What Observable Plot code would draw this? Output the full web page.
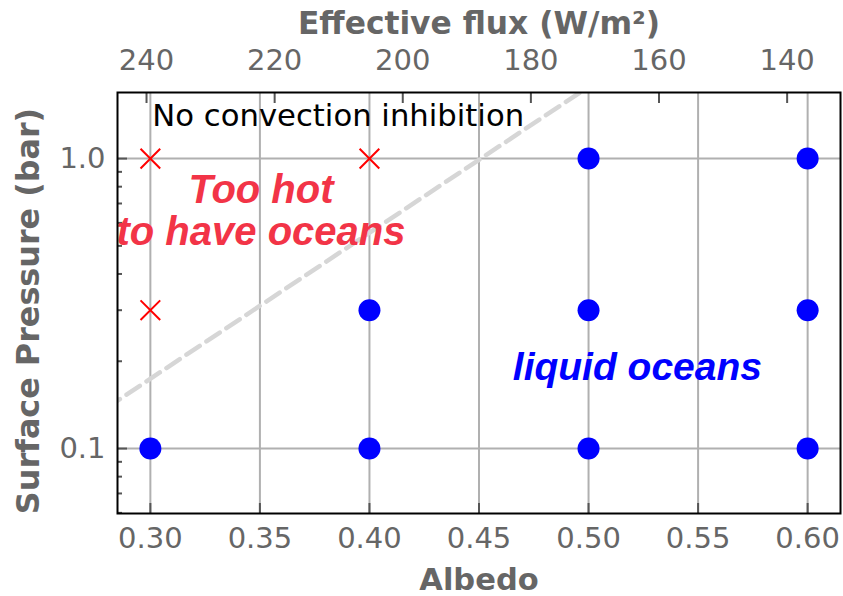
<!DOCTYPE html>
<html>
<head>
<meta charset="utf-8">
<script src="https://cdn.jsdelivr.net/npm/d3@7"></script>
<script src="https://cdn.jsdelivr.net/npm/@observablehq/plot@0.6"></script>
<style>
  html, body { margin: 0; padding: 0; background: white; }
</style>
</head>
<body>
<div id="chart"></div>
<script>
// ---- data ----
const albedoTicks = [0.30, 0.35, 0.40, 0.45, 0.50, 0.55, 0.60];
const fluxTicks = [240, 220, 200, 180, 160, 140];
const pressureTicks = [0.1, 1.0];
const pressureMinorTicks = [0.06, 0.07, 0.08, 0.09, 0.2, 0.3, 0.4, 0.5, 0.6, 0.7, 0.8, 0.9];
const solarConstant = 1368; // W/m^2, effective flux = S(1-A)/4

const hotAlbedo = [0.3, 0.4, 0.3];
const hotPressure = [1.0, 1.0, 0.3];

const oceanAlbedo = [0.4, 0.5, 0.6, 0.5, 0.6, 0.3, 0.4, 0.5, 0.6];
const oceanPressure = [0.3, 1.0, 1.0, 0.3, 0.3, 0.1, 0.1, 0.1, 0.1];

const boundaryAlbedo = [0.28, 0.52];
const boundaryPressure = [0.138, 2.23];

// ---- tables ----
const hot = hotAlbedo.map((a, i) => ({albedo: a, pressure: hotPressure[i]}));
const ocean = oceanAlbedo.map((a, i) => ({albedo: a, pressure: oceanPressure[i]}));
const boundary = boundaryAlbedo.map((a, i) => ({albedo: a, pressure: boundaryPressure[i]}));
const fluxToAlbedo = f => 1 - 4 * f / solarConstant;
const albedoToFlux = a => solarConstant * (1 - a) / 4;

const tickColor = "#555";
const labelColor = "#666";

const chart = Plot.plot({
  width: 843,
  height: 596,
  marginTop: 92,
  marginBottom: 83,
  marginLeft: 117,
  marginRight: 3,
  x: {domain: [0.285, 0.615]},
  y: {type: "log", domain: [0.0597, 1.69]},
  style: {fontFamily: "DejaVu Sans", fontSize: "29px", color: labelColor, background: "white"},
  marks: [
    Plot.gridX(albedoTicks, {stroke: "#b0b0b0", strokeOpacity: 1, strokeWidth: 2}),
    Plot.gridY(pressureTicks, {stroke: "#b0b0b0", strokeOpacity: 1, strokeWidth: 2}),
    Plot.line(boundary, {x: "albedo", y: "pressure", stroke: "#d6d6d6", strokeWidth: 4.5, strokeDasharray: "16,8", clip: true}),
    // bottom axis
    Plot.axisX(albedoTicks, {anchor: "bottom", tickSize: -10, tickPadding: 24, stroke: tickColor, strokeWidth: 2, fill: labelColor, tickFormat: d3.format(".2f"), label: null}),
    // top axis: effective flux
    Plot.axisX(fluxTicks.map(fluxToAlbedo), {anchor: "top", tickSize: -10, tickPadding: 33, stroke: tickColor, strokeWidth: 2, fill: labelColor, tickFormat: a => String(Math.round(albedoToFlux(a))), label: null}),
    // left axis
    Plot.axisY(pressureTicks, {anchor: "left", tickSize: -10, tickPadding: 22, stroke: tickColor, strokeWidth: 2, fill: labelColor, tickFormat: d3.format(".1f"), label: null}),
    Plot.axisY(pressureMinorTicks, {anchor: "left", tickSize: -5, tickPadding: 0, stroke: tickColor, strokeWidth: 2, tickFormat: () => "", label: null}),
    // axis titles
    Plot.text(["Albedo"], {text: d => d, frameAnchor: "bottom", dy: 55, lineAnchor: "top", textAnchor: "middle", fontWeight: "bold", fontSize: 30.5, fill: labelColor}),
    Plot.text(["Effective flux (W/m²)"], {text: d => d, frameAnchor: "top", dy: -59, lineAnchor: "bottom", textAnchor: "middle", fontWeight: "bold", fontSize: 31.3, fill: labelColor}),
    Plot.text(["Surface Pressure (bar)"], {text: d => d, frameAnchor: "left", dx: -89, dy: 8, rotate: -90, lineAnchor: "middle", textAnchor: "middle", fontWeight: "bold", fontSize: 31.8, fill: labelColor}),
    // points
    Plot.dot(hot, {x: "albedo", y: "pressure", symbol: "times", r: 9, stroke: "red", strokeWidth: 2}),
    Plot.dot(ocean, {x: "albedo", y: "pressure", r: 11, fill: "blue", stroke: null}),
    // annotations
    Plot.text(["No convection inhibition"], {text: d => d, x: 0.3009, y: 1.539, textAnchor: "start", lineAnchor: "top", fontSize: 30.7, fill: "black"}),
    Plot.text(["Too hot\nto have oceans"], {text: d => d, x: 0.3505, y: 0.895, textAnchor: "middle", lineAnchor: "top", lineHeight: 1.06, fontFamily: "Liberation Sans", fontStyle: "italic", fontWeight: "bold", fontSize: 40, fill: "#f23447"}),
    Plot.text(["liquid oceans"], {text: d => d, x: 0.5223, y: 0.2143, textAnchor: "middle", lineAnchor: "top", fontFamily: "Liberation Sans", fontStyle: "italic", fontWeight: "bold", fontSize: 39, fill: "blue"}),
    Plot.frame({stroke: "black", strokeWidth: 2})
  ]
});
document.getElementById("chart").appendChild(chart);
</script>
</body>
</html>
